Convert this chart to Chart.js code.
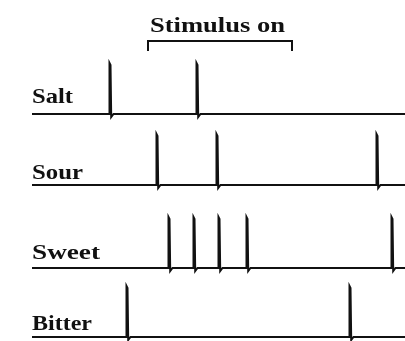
<!DOCTYPE html>
<html>
<head>
<meta charset="utf-8">
<script src="https://cdn.jsdelivr.net/npm/chart.js@4.4.1/dist/chart.umd.min.js"></script>
<style>
  body { margin: 0; background: #fff; }
  #wrap { width: 405px; height: 341px; }
</style>
</head>
<body>
<div id="wrap"><canvas id="chart1"></canvas></div>
<script>
// taste categories and spike times (arbitrary time units)
const tastes = ['Salt', 'Sour', 'Sweet', 'Bitter'];
const saltSpikes = [78, 165];
const sourSpikes = [125, 185, 345];
const sweetSpikes = [137, 162, 187, 215, 360];
const bitterSpikes = [95, 318];
const stimulusOn = [116, 260];
const recordEnd = 373;

// layout: where each trace sits on the y axis
const rowBase = [227, 156, 73, 4];
const spikeHeight = 51;

function trace(spikes, base) {
    const pts = [{ x: 0, y: base }];
    spikes.forEach(t => {
        pts.push({ x: t - 1, y: base });
        pts.push({ x: t - 0.5, y: base + spikeHeight });
        pts.push({ x: t + 0.5, y: base + spikeHeight - 2 });
        pts.push({ x: t + 1.2, y: base - 3 });
        pts.push({ x: t + 3.5, y: base });
    });
    pts.push({ x: recordEnd, y: base });
    return pts;
}

const allSpikes = [saltSpikes, sourSpikes, sweetSpikes, bitterSpikes];

const labelsPlugin = {
    id: 'labels',
    afterDraw(chart) {
        const ctx = chart.ctx;
        const xs = chart.scales.x, ys = chart.scales.y;
        ctx.save();
        ctx.fillStyle = '#111';
        ctx.font = 'bold 21px "Liberation Serif"';
        ctx.textBaseline = 'alphabetic';
        const offs = [11, 6, 9, 7];
        tastes.forEach((name, i) => {
            const y = ys.getPixelForValue(rowBase[i]) - offs[i];
            const x = xs.getPixelForValue(0);
            const w = ctx.measureText(name).width;
            const target = [41, 51, 68, 60][i];
            ctx.save();
            ctx.translate(x, y);
            ctx.scale(target / w, 1);
            ctx.fillText(name, 0, 0);
            ctx.restore();
        });
        // stimulus bracket
        const x0 = xs.getPixelForValue(stimulusOn[0]);
        const x1 = xs.getPixelForValue(stimulusOn[1]);
        const by = 41;
        ctx.strokeStyle = '#111';
        ctx.lineWidth = 2;
        ctx.beginPath();
        ctx.moveTo(x0, by + 10);
        ctx.lineTo(x0, by);
        ctx.lineTo(x1, by);
        ctx.lineTo(x1, by + 10);
        ctx.stroke();
        ctx.font = 'bold 20px "Liberation Serif"';
        const txt = 'Stimulus on';
        const tw = ctx.measureText(txt).width;
        ctx.save();
        ctx.translate(150, 32);
        ctx.scale(135 / tw, 1);
        ctx.fillText(txt, 0, 0);
        ctx.restore();
        ctx.restore();
    }
};

const chart1Ctx = document.getElementById('chart1').getContext('2d');
const chart1 = new Chart(chart1Ctx, {
    type: 'scatter',
    data: {
        datasets: tastes.map((name, i) => ({
            label: name,
            data: trace(allSpikes[i], rowBase[i]),
            showLine: true,
            borderColor: '#111',
            borderWidth: 2,
            pointRadius: 0,
            tension: 0
        }))
    },
    options: {
        responsive: true,
        maintainAspectRatio: false,
        animation: false,
        layout: { padding: 0 },
        scales: {
            x: { type: 'linear', min: -32, max: 373, display: false },
            y: { type: 'linear', min: 0, max: 341, display: false }
        },
        plugins: {
            legend: { display: false },
            tooltip: { enabled: false }
        }
    },
    plugins: [labelsPlugin]
});
</script>
</body>
</html>
